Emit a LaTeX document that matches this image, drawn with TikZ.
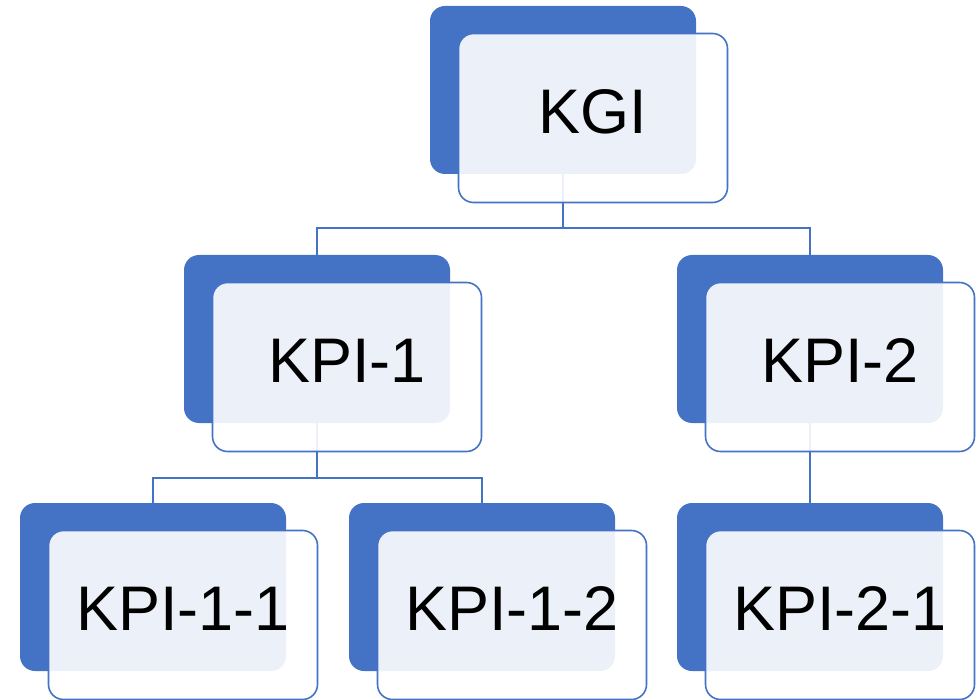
\documentclass[tikz,border=0pt]{standalone}
\usepackage{fontspec}
\setmainfont{Liberation Sans}
\definecolor{accent}{HTML}{4472C4}
\begin{document}
\begin{tikzpicture}[x=1pt,y=-1pt,
  back/.style={rectangle,rounded corners=15pt,fill=accent,draw=none,anchor=north west,
    minimum width=266pt,minimum height=168pt,inner sep=0pt,outer sep=0pt},
  front/.style={rectangle,rounded corners=15pt,fill=white,fill opacity=0.9,draw=accent,
    draw opacity=1,line width=1.6pt,anchor=north west,
    minimum width=269pt,minimum height=169pt,inner sep=0pt,outer sep=0pt},
  lbl/.style={inner sep=0pt,font=\fontsize{63}{70}\selectfont,text=black},
  conn/.style={draw=accent,line width=1.6pt}]
\useasboundingbox (0,0) rectangle (979,700);
% back rectangles
\node[back] (kgiB)   at (430,6)   {};
\node[back] (kpi1B)  at (184,255) {};
\node[back] (kpi2B)  at (677,255) {};
\node[back] (kpi11B) at (20,503)  {};
\node[back] (kpi12B) at (349,503) {};
\node[back] (kpi21B) at (677,503) {};
% connectors
\draw[conn] (kgiB.south) -- ++(0,54) -| (kpi1B.north);
\draw[conn] (kgiB.south) -- ++(0,54) -| (kpi2B.north);
\draw[conn] (kpi1B.south) -- ++(0,55) -| (kpi11B.north);
\draw[conn] (kpi1B.south) -- ++(0,55) -| (kpi12B.north);
\draw[conn] (kpi2B.south) -- (kpi21B.north);
% front rectangles
\node[front] (kgi)   at (458.5,33.5)  {};
\node[front] (kpi1)  at (212.5,282.5) {};
\node[front] (kpi2)  at (705.5,282.5) {};
\node[front] (kpi11) at (48.5,530.5)  {};
\node[front] (kpi12) at (377.5,530.5) {};
\node[front] (kpi21) at (705.5,530.5) {};
% labels
\node[lbl] (tkgi)   at ([yshift=6pt]kgi.center)   {KGI};
\node[lbl] (tkpi1)  at ([yshift=6pt]kpi1.center)  {KPI-1};
\node[lbl] (tkpi2)  at ([yshift=6pt]kpi2.center)  {KPI-2};
\node[lbl] (tkpi11) at ([yshift=6pt]kpi11.center) {KPI-1-1};
\node[lbl] (tkpi12) at ([yshift=6pt]kpi12.center) {KPI-1-2};
\node[lbl] (tkpi21) at ([yshift=6pt]kpi21.center) {KPI-2-1};
\end{tikzpicture}
\end{document}
